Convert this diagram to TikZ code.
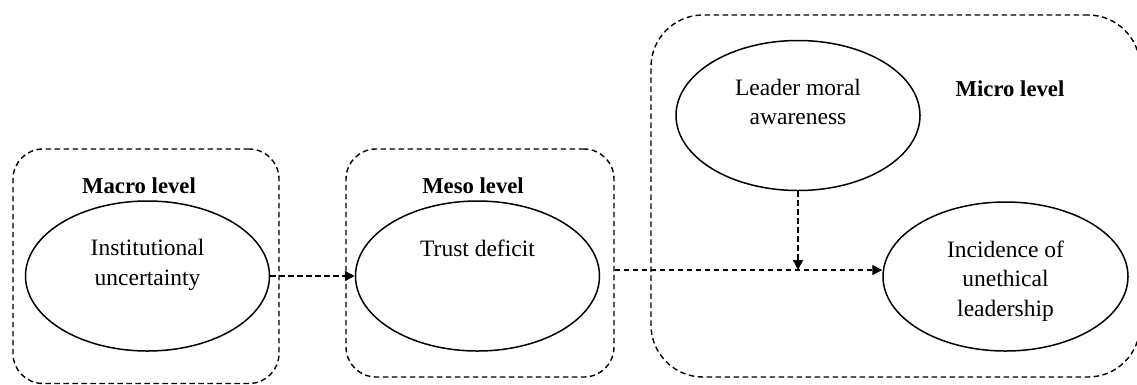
\documentclass[tikz,border=0pt]{standalone}
\usepackage{fontspec}
\setmainfont{Liberation Serif}
\usetikzlibrary{shapes.geometric,arrows.meta}
\begin{document}
\begin{tikzpicture}[x=1pt,y=-1pt,
  oval/.style={draw, line width=1.5pt, ellipse, minimum width=244pt, minimum height=150pt, inner sep=0pt},
  lvlbox/.style={draw, line width=1.4pt, dash pattern=on 5.5pt off 3.5pt, rounded corners=30pt, inner sep=0pt},
  conn/.style={line width=1.4pt, dash pattern=on 5.5pt off 3.5pt, -{Triangle[length=10pt,width=10pt]}},
  txt/.style={font=\fontsize{23.5}{29.5}\selectfont, align=center, inner sep=0pt, anchor=north},
  lvl/.style={font=\fontsize{22.7}{27}\selectfont\bfseries, inner sep=0pt, anchor=base}]
\useasboundingbox (0,0) rectangle (1137,384);
% level boxes
\node[lvlbox, minimum width=266pt, minimum height=234.5pt] (macrobox) at (146,266.25) {};
\node[lvlbox, minimum width=268pt, minimum height=228pt] (mesobox) at (480,263) {};
\node[lvlbox, rounded corners=52pt, minimum width=489pt, minimum height=362pt] (microbox) at (895.5,196) {};
% level labels
\node[lvl] (macrolbl) at (139,193) {Macro level};
\node[lvl] (mesolbl) at (473,193) {Meso level};
\node[lvl] (microlbl) at (1010,96) {Micro level};
% ellipses
\node[oval] (macro) at (147.5,276) {};
\node[oval] (meso) at (477.5,276) {};
\node[oval] (leader) at (798,115.5) {};
\node[oval, minimum width=245pt, minimum height=149pt] (inc) at (1005.5,276.5) {};
% texts
\node[txt] (macrot) at ([yshift=-39pt]macro.north) {Institutional\\uncertainty};
\node[txt] (mesot) at ([yshift=-39pt]meso.north) {Trust deficit};
\node[txt] (leadert) at ([yshift=-39pt]leader.north) {Leader moral\\awareness};
\node[txt] (inct) at ([yshift=-39pt]inc.north) {Incidence of\\unethical\\leadership};
% connectors
\coordinate (j) at (798,270);
\draw[conn] (macro.east) -- (meso.west);
\draw[conn] (mesobox.east |- j) -- (j -| inc.west);
\draw[conn] (leader.south) -- (j);
\end{tikzpicture}
\end{document}
